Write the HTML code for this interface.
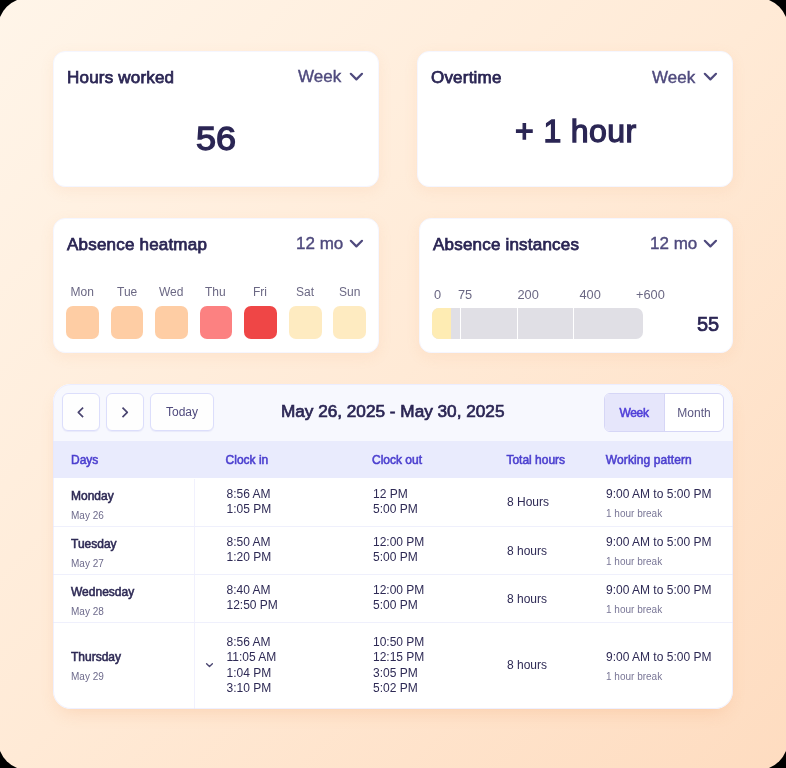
<!DOCTYPE html>
<html><head><meta charset="utf-8">
<style>
*{box-sizing:border-box;margin:0;padding:0}
html,body{width:786px;height:768px;overflow:hidden;background:#000}
body{position:relative;font-family:"Liberation Sans",sans-serif;color:#2b2654}
.wrap{position:absolute;left:0;top:0;width:786px;height:768px;will-change:transform}
.bg{position:absolute;left:-2px;top:-2px;width:790px;height:772px;border-radius:30px;
 background:linear-gradient(135deg,#fff5e9 0%,#ffead6 50%,#fedcc0 100%)}
.card{position:absolute;background:#fff;border-radius:12px;border:1px solid #f5f6ff;box-shadow:0 4px 14px rgba(240,150,80,.10)}
.t{position:absolute;white-space:nowrap;line-height:1}
.ttl{font-size:17px;letter-spacing:0.2px;font-weight:400;-webkit-text-stroke:0.75px #2b2654;color:#2b2654}
.sel{font-size:17px;color:#4f4a7d;-webkit-text-stroke:0.4px #4f4a7d}
.chev{position:absolute}
.sq{position:absolute;width:32.6px;height:32.4px;border-radius:7px;top:306.4px}
.lbl{font-size:12px;color:#6b6884}
.tbl{position:absolute;left:53px;top:384px;width:680px;height:325px;background:#fff;border-radius:18px;overflow:hidden;box-shadow:0 8px 18px -6px rgba(235,140,70,.24)}

.hb{position:absolute;left:0;top:0;width:680px;height:56.8px;background:#f7f8fe}
.btn{position:absolute;top:9.2px;height:37.5px;background:#fefefe;border:1px solid #dcdefb;border-radius:6px;box-shadow:0 1px 1px rgba(120,120,220,.10)}
.ch{position:absolute;left:0;top:56.8px;width:680px;height:37.7px;background:#e9ebfd}
.hl{font-size:12px;font-weight:400;-webkit-text-stroke:0.55px #4b3fcf;color:#4b3fcf;top:69.6px}
.dn{left:18px;font-size:12px;font-weight:400;-webkit-text-stroke:0.55px #2e2a55;color:#2e2a55}
.dd{left:18px;font-size:10px;color:#6e6b8c}
.tm{position:absolute;white-space:nowrap;font-size:12px;line-height:15px;color:#2e2a55}
.tt{left:454px;font-size:12px;color:#2e2a55}
.wp{left:553px;font-size:12px;color:#2e2a55}
.br{left:553px;font-size:10px;color:#7a7797}
.rd{position:absolute;left:0;width:680px;height:1px;background:#eff0fc}
</style></head><body><div class="wrap">
<div class="bg"></div>

<!-- Card 1 -->
<div class="card" style="left:53px;top:51.3px;width:326px;height:135.9px"></div>
<div class="t ttl" style="left:67px;top:69.2px">Hours worked</div>
<div class="t sel" style="left:298px;top:68px">Week</div>
<svg class="chev" style="left:349px;top:71.9px" width="15" height="10" viewBox="0 0 15 10"><path d="M1.8 1.8 L7.4 7.4 L13 1.8" fill="none" stroke="#4f4a7d" stroke-width="2.2" stroke-linecap="round" stroke-linejoin="round"/></svg>
<div class="t" style="left:196.3px;top:122.4px;font-size:33.5px;font-weight:400;-webkit-text-stroke:1.3px #2b2654;transform:scaleX(1.075);transform-origin:0 0">56</div>

<!-- Card 2 -->
<div class="card" style="left:417px;top:51.3px;width:316.2px;height:135.9px"></div>
<div class="t ttl" style="left:431px;top:69.2px">Overtime</div>
<div class="t sel" style="left:652px;top:68.5px">Week</div>
<svg class="chev" style="left:703px;top:71.9px" width="15" height="10" viewBox="0 0 15 10"><path d="M1.8 1.8 L7.4 7.4 L13 1.8" fill="none" stroke="#4f4a7d" stroke-width="2.2" stroke-linecap="round" stroke-linejoin="round"/></svg>
<div class="t" style="left:515px;top:115px;font-size:32px;font-weight:400;-webkit-text-stroke:1.3px #2b2654;letter-spacing:0.4px">+ 1 hour</div>

<!-- Card 3 -->
<div class="card" style="left:53px;top:217.5px;width:326px;height:135px"></div>
<div class="t ttl" style="left:67px;top:235.6px">Absence heatmap</div>
<div class="t sel" style="left:296px;top:235px">12 mo</div>
<svg class="chev" style="left:349px;top:238.9px" width="15" height="10" viewBox="0 0 15 10"><path d="M1.8 1.8 L7.4 7.4 L13 1.8" fill="none" stroke="#4f4a7d" stroke-width="2.2" stroke-linecap="round" stroke-linejoin="round"/></svg>
<div class="t lbl" style="left:70.5px;top:285.6px">Mon</div>
<div class="t lbl" style="left:117px;top:285.6px">Tue</div>
<div class="t lbl" style="left:159px;top:285.6px">Wed</div>
<div class="t lbl" style="left:205px;top:285.6px">Thu</div>
<div class="t lbl" style="left:253px;top:285.6px">Fri</div>
<div class="t lbl" style="left:296px;top:285.6px">Sat</div>
<div class="t lbl" style="left:339px;top:285.6px">Sun</div>
<div class="sq" style="left:66px;background:#fecda4"></div>
<div class="sq" style="left:110.6px;background:#fecda4"></div>
<div class="sq" style="left:155.2px;background:#fecda4"></div>
<div class="sq" style="left:199.8px;background:#fc8181"></div>
<div class="sq" style="left:244.4px;background:#ef4646"></div>
<div class="sq" style="left:289px;background:#feebc1"></div>
<div class="sq" style="left:333.2px;background:#feebc1"></div>

<!-- Card 4 -->
<div class="card" style="left:419px;top:217.5px;width:314px;height:135px"></div>
<div class="t ttl" style="left:433px;top:236px">Absence instances</div>
<div class="t sel" style="left:650px;top:235px">12 mo</div>
<svg class="chev" style="left:703px;top:238.9px" width="15" height="10" viewBox="0 0 15 10"><path d="M1.8 1.8 L7.4 7.4 L13 1.8" fill="none" stroke="#4f4a7d" stroke-width="2.2" stroke-linecap="round" stroke-linejoin="round"/></svg>
<div class="t lbl" style="left:434px;top:288.8px;font-size:12.8px">0</div>
<div class="t lbl" style="left:458px;top:288.8px;font-size:12.8px">75</div>
<div class="t lbl" style="left:517.5px;top:288.8px;font-size:12.8px">200</div>
<div class="t lbl" style="left:579.5px;top:288.8px;font-size:12.8px">400</div>
<div class="t lbl" style="left:636px;top:288.8px;font-size:12.8px">+600</div>
<div style="position:absolute;left:432px;top:308px;width:211px;height:31px;border-radius:7px;overflow:hidden;background:#e0dfe5">
  <div style="position:absolute;left:0;top:0;width:19px;height:31px;background:#feecb3"></div>
  <div style="position:absolute;left:28px;top:0;width:1px;height:31px;background:#fff"></div>
  <div style="position:absolute;left:84.6px;top:0;width:1px;height:31px;background:#fff"></div>
  <div style="position:absolute;left:141.1px;top:0;width:1px;height:31px;background:#fff"></div>
</div>
<div class="t" style="left:697px;top:314px;font-size:20px;font-weight:400;-webkit-text-stroke:0.7px #2b2654">55</div>

<!-- Table -->
<div class="tbl">
  <div class="hb"></div>
  <div class="btn" style="left:9.2px;width:37.5px"></div>
  <svg style="position:absolute;left:22px;top:20px" width="10" height="14" viewBox="0 0 10 14"><path d="M8.1 3.6 L3.3 8.4 L8.1 13.2" fill="none" stroke="#4a4570" stroke-width="1.65" stroke-linecap="butt" stroke-linejoin="round"/></svg>
  <div class="btn" style="left:53.1px;width:37.8px"></div>
  <svg style="position:absolute;left:67px;top:20px" width="10" height="14" viewBox="0 0 10 14"><path d="M2.5 3.6 L7.3 8.4 L2.5 13.2" fill="none" stroke="#4a4570" stroke-width="1.65" stroke-linecap="butt" stroke-linejoin="round"/></svg>
  <div class="btn" style="left:97px;width:63.7px"></div>
  <div class="t" style="left:113px;top:22.1px;font-size:12px;color:#4f4a7d">Today</div>
  <div class="t" style="left:227.9px;top:19.2px;font-size:17.2px;font-weight:400;-webkit-text-stroke:0.7px #2b2654;color:#2b2654">May 26, 2025 - May 30, 2025</div>
  <div style="position:absolute;left:550.9px;top:9px;width:120.2px;height:38.7px;border:1px solid #d6d6f6;border-radius:6px;overflow:hidden;background:#fff">
    <div style="position:absolute;left:0;top:0;width:60.6px;height:100%;background:#e6e6fb;border-right:1px solid #d6d6f6"></div>
  </div>
  <div class="t" style="left:566.4px;top:23.2px;font-size:12px;font-weight:400;-webkit-text-stroke:0.55px #4f3fd8;color:#4f3fd8;letter-spacing:-0.3px">Week</div>
  <div class="t" style="left:624.3px;top:23.2px;font-size:12px;color:#5a5680">Month</div>
  <div class="ch"></div>
  <div class="t hl" style="left:18px">Days</div>
  <div class="t hl" style="left:172.6px">Clock in</div>
  <div class="t hl" style="left:319px">Clock out</div>
  <div class="t hl" style="left:453.4px">Total hours</div>
  <div class="t hl" style="left:552.8px;letter-spacing:0.1px">Working pattern</div>
  <div style="position:absolute;left:140.6px;top:94.5px;width:1.4px;height:240px;background:#f1f1fd"></div>
  <div class="rd" style="top:142.2px"></div>
  <div class="rd" style="top:190.4px"></div>
  <div class="rd" style="top:238.4px"></div>
  <div class="t dn" style="top:105.7px">Monday</div>
  <div class="t dd" style="top:126.5px">May 26</div>
  <div class="tm" style="left:173.5px;top:102.5px">8:56 AM<br>1:05 PM</div>
  <div class="tm" style="left:320px;top:102.5px">12 PM<br>5:00 PM</div>
  <div class="t tt" style="top:112.4px">8 Hours</div>
  <div class="t wp" style="top:103.9px">9:00 AM to 5:00 PM</div>
  <div class="t br" style="top:124.5px">1 hour break</div>
  <div class="t dn" style="top:153.8px">Tuesday</div>
  <div class="t dd" style="top:174.6px">May 27</div>
  <div class="tm" style="left:173.5px;top:150.7px">8:50 AM<br>1:20 PM</div>
  <div class="tm" style="left:320px;top:150.7px">12:00 PM<br>5:00 PM</div>
  <div class="t tt" style="top:160.6px">8 hours</div>
  <div class="t wp" style="top:152.1px">9:00 AM to 5:00 PM</div>
  <div class="t br" style="top:172.6px">1 hour break</div>
  <div class="t dn" style="top:202.0px">Wednesday</div>
  <div class="t dd" style="top:222.8px">May 28</div>
  <div class="tm" style="left:173.5px;top:198.8px">8:40 AM<br>12:50 PM</div>
  <div class="tm" style="left:320px;top:198.8px">12:00 PM<br>5:00 PM</div>
  <div class="t tt" style="top:208.7px">8 hours</div>
  <div class="t wp" style="top:200.2px">9:00 AM to 5:00 PM</div>
  <div class="t br" style="top:220.8px">1 hour break</div>
  <div class="t dn" style="top:267.1px">Thursday</div>
  <div class="t dd" style="top:288.1px">May 29</div>
  <svg style="position:absolute;left:151px;top:277px" width="11" height="8" viewBox="0 0 11 8"><path d="M2.6 2.7 L5.5 5.6 L8.4 2.7" fill="none" stroke="#4a4570" stroke-width="1.35" stroke-linecap="round" stroke-linejoin="round"/></svg>
  <div class="tm" style="left:173.5px;top:251.2px">8:56 AM<br>11:05 AM</div>
  <div class="tm" style="left:173.5px;top:282.3px">1:04 PM<br>3:10 PM</div>
  <div class="tm" style="left:320px;top:251.2px">10:50 PM<br>12:15 PM</div>
  <div class="tm" style="left:320px;top:282.3px">3:05 PM<br>5:02 PM</div>
  <div class="t tt" style="top:274.9px">8 hours</div>
  <div class="t wp" style="top:267px">9:00 AM to 5:00 PM</div>
  <div class="t br" style="top:287.6px">1 hour break</div>
  <div style="position:absolute;left:0;top:0;width:680px;height:325px;border:1px solid rgba(228,230,255,.6);border-radius:18px"></div>
</div>
</div></body></html>
